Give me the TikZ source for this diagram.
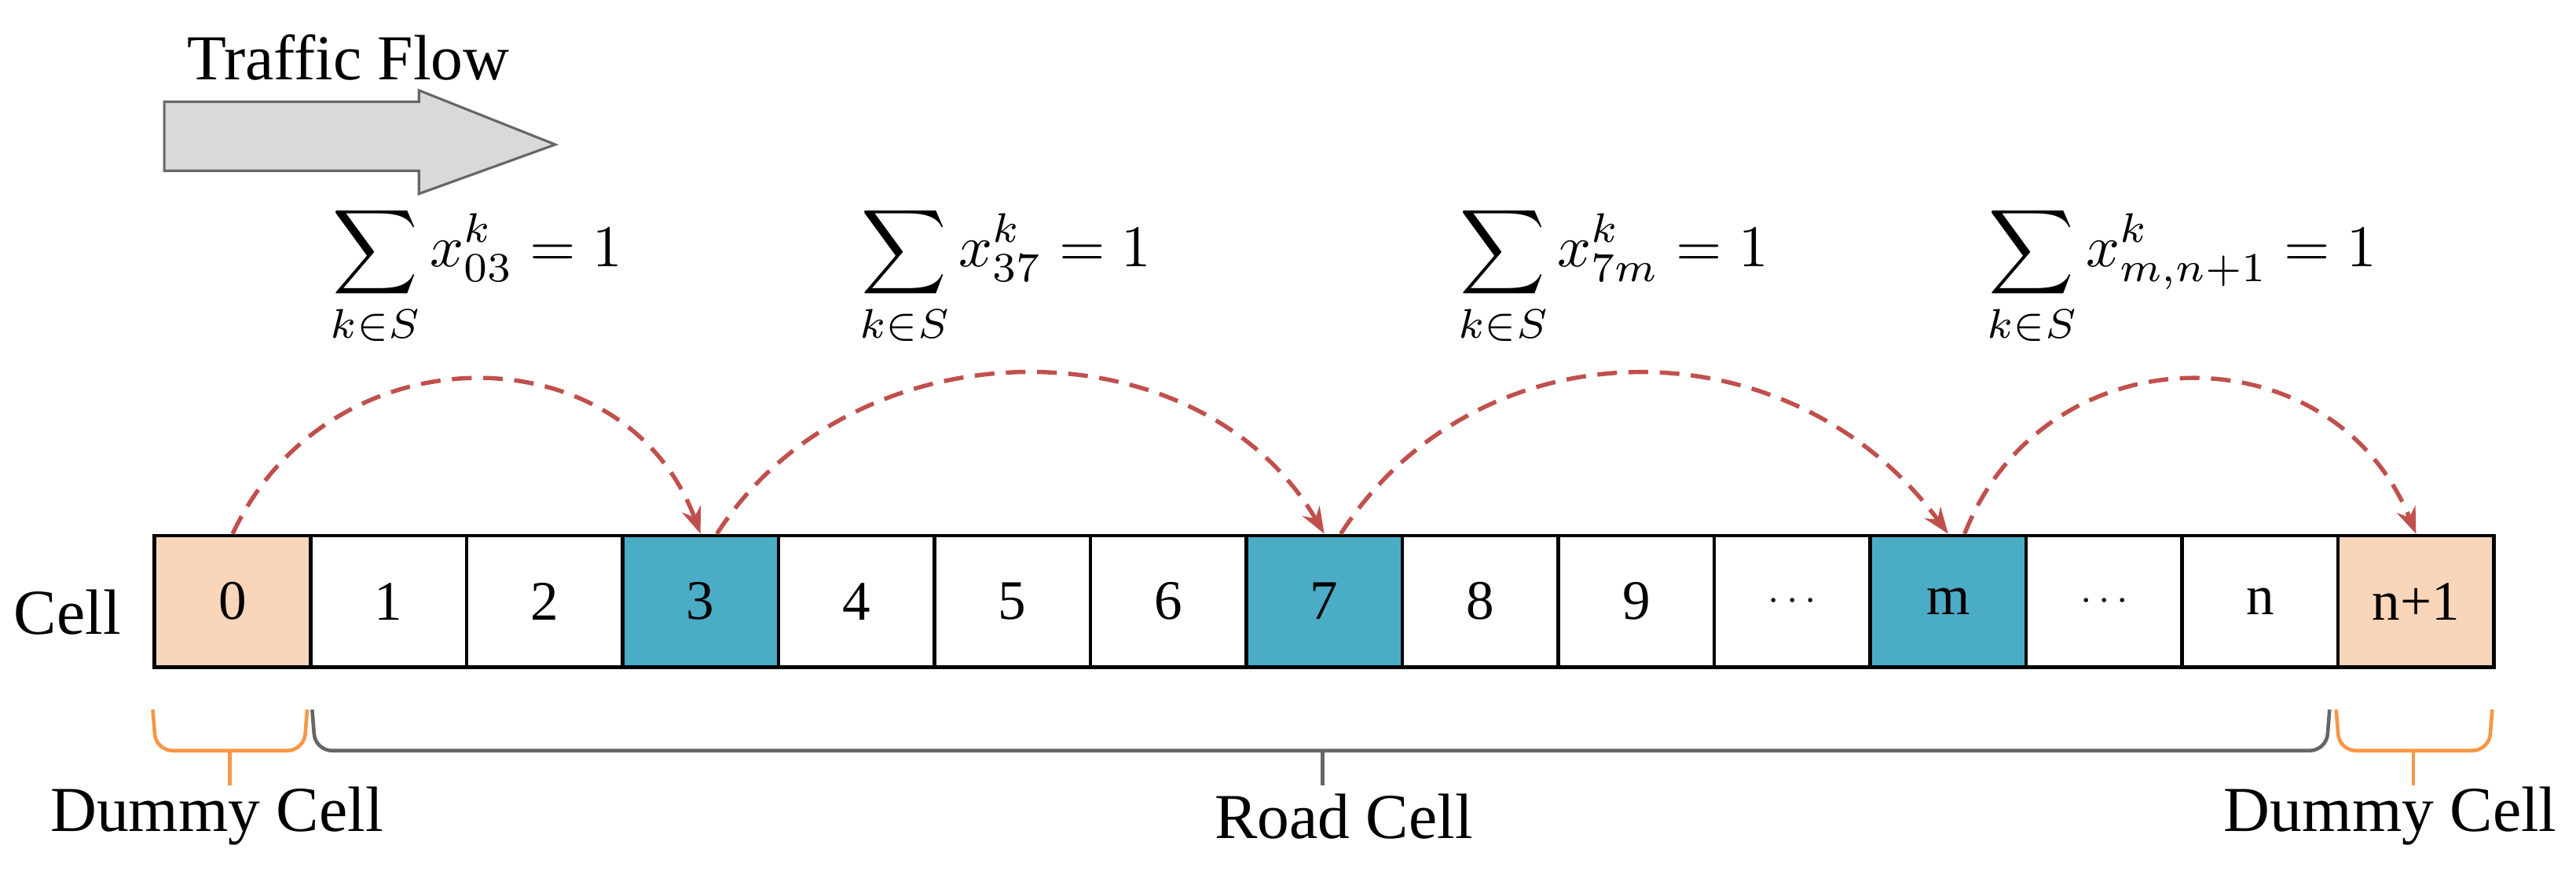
\documentclass[tikz,border=0pt]{standalone}
\usepackage{fontspec}
\setmainfont{Liberation Serif}
\usetikzlibrary{arrows.meta}
\definecolor{dummy}{HTML}{F9D5BA}
\definecolor{sel}{HTML}{4BACC6}
\definecolor{arc}{HTML}{C0504D}
\definecolor{brk}{HTML}{F79646}
\begin{document}
\begin{tikzpicture}[x=1pt,y=-1pt,
  cell/.style={draw=black,line width=2.2pt,minimum width=95pt,minimum height=80pt,inner sep=0pt,anchor=north west,font=\fontsize{34}{38}\selectfont},
  hop/.style={arc,dashed,dash pattern=on 12pt off 7pt,line width=2.6pt,-{Stealth[length=16pt,width=12pt]}},
  lbl/.style={font=\fontsize{39}{44}\selectfont},
  formula/.style={inner sep=0pt}]
\useasboundingbox (0,0) rectangle (1568,536.6);
\draw[draw=gray!80!black,fill=gray!30,line width=1.5pt] (100,62) -- (255,62) -- (255,55) -- (338,88) -- (255,118) -- (255,104) -- (100,104) -- cycle;
\node[lbl] (tf) at (212,35) {Traffic Flow};
\node[lbl,anchor=east] (celllbl) at (77,373) {Cell};
\foreach \i/\t/\f in {0/0/dummy,1/1/white,2/2/white,3/3/sel,4/4/white,5/5/white,6/6/white,7/7/sel,8/8/white,9/9/white,10/$\cdots$/white,11/m/sel,12/$\cdots$/white,13/n/white,14/n+1/dummy}
  \node[cell,fill=\f] (c\i) at (93+\i*94.93,325) {\t};
\draw[hop] (c0.north) .. controls (200,200) and (380,200) .. (c3.north);
\draw[hop] (c3.north) ++(10,0) .. controls (520,195) and (730,195) .. (c7.north);
\draw[hop] (c7.north) ++(10,0) .. controls (900,195) and (1090,195) .. (c11.north);
\draw[hop] (c11.north) ++(10,0) .. controls (1245,200) and (1420,200) .. (c14.north);
\node[formula] (f1) at (290,168) {\scalebox{3.6}{$\displaystyle\sum_{k\in S} x_{03}^{k}=1$}};
\node[formula] (f2) at (612,168) {\scalebox{3.6}{$\displaystyle\sum_{k\in S} x_{37}^{k}=1$}};
\node[formula] (f3) at (982,168) {\scalebox{3.6}{$\displaystyle\sum_{k\in S} x_{7m}^{k}=1$}};
\node[formula] (f4) at (1328,168) {\scalebox{3.6}{$\displaystyle\sum_{k\in S} x_{m,n+1}^{k}=1$}};
\draw[brk,line width=2.2pt,rounded corners=10pt] (93,432) -- (95,457) -- (185,457) -- (187,432);
\draw[brk,line width=2.2pt] (140,457) -- (140,478);
\draw[gray!80!black,line width=2.2pt,rounded corners=10pt] (190,432) -- (192,457) -- (1416,457) -- (1418,432);
\draw[gray!80!black,line width=2.2pt] (805,457) -- (805,478);
\draw[brk,line width=2.2pt,rounded corners=10pt] (1422,432) -- (1424,457) -- (1515,457) -- (1517,432);
\draw[brk,line width=2.2pt] (1469,457) -- (1469,478);
\node[lbl] (d1) at (132,497) {Dummy Cell};
\node[lbl] (rc) at (818,497) {Road Cell};
\node[lbl] (d2) at (1455,497) {Dummy Cell};
\end{tikzpicture}
\end{document}
